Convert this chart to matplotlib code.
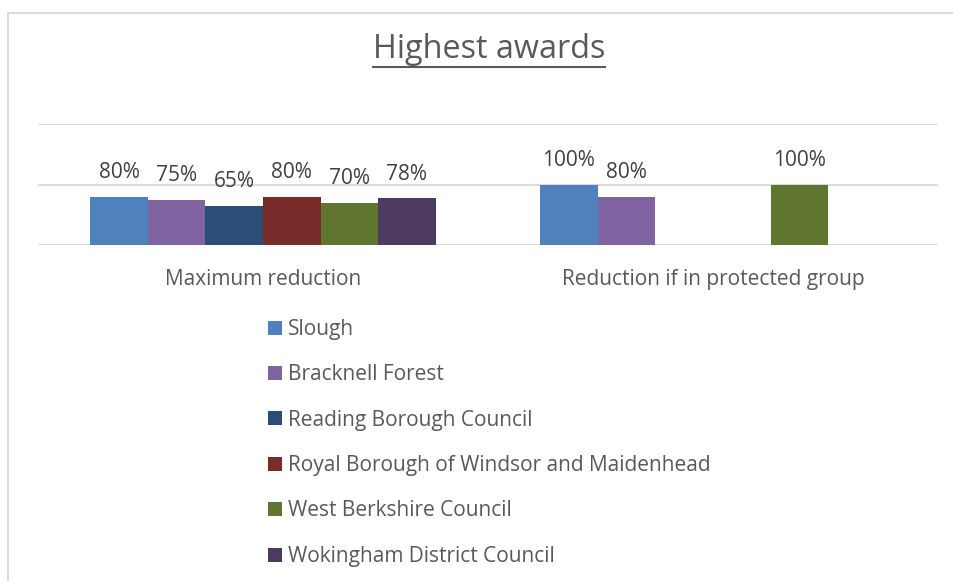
import matplotlib.pyplot as plt
import matplotlib.lines as mlines
import numpy as np

plt.rcParams['font.family'] = ['Open Sans', 'DejaVu Sans']

categories = ['Maximum reduction', 'Reduction if in protected group']
councils = ['Slough', 'Bracknell Forest', 'Reading Borough Council',
            'Royal Borough of Windsor and Maidenhead', 'West Berkshire Council',
            'Wokingham District Council']
colors = ['#4F81BD', '#8064A2', '#2C4D75', '#772C2A', '#5F7530', '#4D3B62']
# values as fractions, None = no value
slough = [0.80, 1.00]
bracknell = [0.75, 0.80]
reading = [0.65, None]
windsor = [0.80, None]
westberks = [0.70, 1.00]
wokingham = [0.78, None]
series = [slough, bracknell, reading, windsor, westberks, wokingham]

fig = plt.figure(figsize=(9.54, 5.81), dpi=100)
ax = fig.add_axes([38/954, 1-245/581, 900/954, 121/581])

x = np.arange(len(categories))
w = 0.128
for i, (name, vals) in enumerate(zip(councils, series)):
    xs = [x[j] + (i - 2.5) * w for j in range(len(vals)) if vals[j] is not None]
    ys = [v for v in vals if v is not None]
    bars = ax.bar(xs, ys, width=w, color=colors[i], label=name, zorder=3)
    for b, v in zip(bars, ys):
        ax.annotate(f'{v*100:.0f}%', (b.get_x() + b.get_width()/2, v),
                    xytext=(0, 9.5), textcoords='offset points',
                    ha='center', va='bottom', fontsize=15, color='#404040')

ax.set_xlim(-0.5, 1.5)
ax.set_ylim(0, 2)
ax.set_yticks([0, 1, 2])
ax.set_yticklabels([])
ax.tick_params(axis='y', length=0)
ax.tick_params(axis='x', length=0, pad=17, labelsize=15, labelcolor='#595959')
ax.set_xticks(x)
ax.set_xticklabels(categories)
ax.grid(axis='y', color='#d9d9d9', linewidth=1.3, zorder=0)
for s in ax.spines.values():
    s.set_visible(False)

leg = fig.legend(loc='upper left', bbox_to_anchor=(268/954, 1-319/581),
                 frameon=False, fontsize=15, handlelength=0.66, handleheight=0.66,
                 handletextpad=0.3, labelspacing=1.17, borderpad=0, borderaxespad=0)
for t in leg.get_texts():
    t.set_color('#595959')

title = fig.text(489/954, 1-58/581, 'Highest awards', ha='center', va='baseline',
                 fontsize=23.3, color='#595959')

# outer chart border (left, top)
fig.add_artist(mlines.Line2D([8.5/954, 8.5/954], [0, 1-13/581], color='#d9d9d9', lw=1.3))
fig.add_artist(mlines.Line2D([8.5/954, 953/954], [1-13/581, 1-13/581], color='#d9d9d9', lw=1.3))

# underline the title
fig.canvas.draw()
bb = title.get_window_extent().transformed(fig.transFigure.inverted())
fig.add_artist(mlines.Line2D([bb.x0, bb.x1], [1-67/581, 1-67/581],
                             color='#595959', lw=1.5))

fig.savefig('out.png', dpi=100)
